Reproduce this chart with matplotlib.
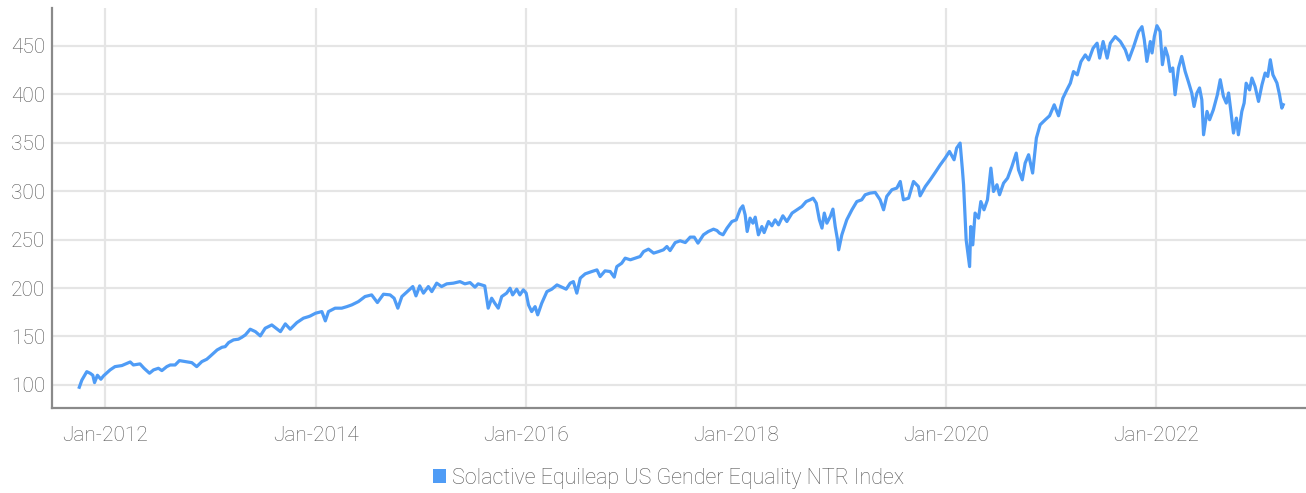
import matplotlib
matplotlib.use("Agg")
import matplotlib.pyplot as plt
import matplotlib.dates as mdates
from matplotlib.patches import Patch
import pandas as pd

SERIES_NAME = "Solactive Equileap US Gender Equality NTR Index"
LINE_COLOR = "#4f9cf6"

dates = [
    "2011-10-03", "2011-10-12", "2011-10-29", "2011-11-10", "2011-11-19", "2011-11-25",
    "2011-12-05", "2011-12-17", "2011-12-26",
    "2012-01-18", "2012-02-04", "2012-02-28", "2012-03-10", "2012-03-28", "2012-04-08",
    "2012-05-01", "2012-05-15", "2012-06-03", "2012-06-17", "2012-07-04", "2012-07-16",
    "2012-08-02", "2012-08-14", "2012-08-31", "2012-09-15", "2012-10-05", "2012-10-28",
    "2012-11-14", "2012-12-02", "2012-12-19",
    "2013-01-01", "2013-01-24", "2013-02-10", "2013-02-21", "2013-03-05", "2013-03-22",
    "2013-04-08", "2013-04-20", "2013-05-02", "2013-05-19", "2013-06-06", "2013-06-23",
    "2013-07-10", "2013-08-02", "2013-09-01", "2013-09-18", "2013-10-05", "2013-10-28",
    "2013-11-20", "2013-12-08", "2013-12-14",
    "2014-01-01", "2014-01-23", "2014-02-04", "2014-02-15", "2014-03-10", "2014-04-02",
    "2014-04-20", "2014-05-07", "2014-05-30", "2014-06-22", "2014-07-15", "2014-08-04",
    "2014-08-25", "2014-09-17", "2014-10-01", "2014-10-14", "2014-10-28", "2014-11-20",
    "2014-12-05", "2014-12-16", "2014-12-29",
    "2015-01-11", "2015-01-28", "2015-02-09", "2015-02-26", "2015-03-15", "2015-04-02",
    "2015-04-25", "2015-05-18", "2015-06-04", "2015-06-22", "2015-07-09", "2015-07-20",
    "2015-08-12", "2015-08-24", "2015-09-05", "2015-09-16", "2015-09-28", "2015-10-10",
    "2015-10-27", "2015-11-08", "2015-11-17", "2015-12-01", "2015-12-12", "2015-12-24",
    "2016-01-03", "2016-01-11", "2016-01-22", "2016-02-03", "2016-02-12", "2016-02-26",
    "2016-03-15", "2016-04-01", "2016-04-19", "2016-05-06", "2016-05-21", "2016-06-04",
    "2016-06-15", "2016-06-27", "2016-07-09", "2016-07-26", "2016-08-18", "2016-09-05",
    "2016-09-16", "2016-10-03", "2016-10-21", "2016-11-04", "2016-11-13", "2016-11-30",
    "2016-12-12", "2016-12-30",
    "2017-01-16", "2017-02-02", "2017-02-14", "2017-03-03", "2017-03-21", "2017-04-07",
    "2017-04-24", "2017-05-06", "2017-05-17", "2017-06-04", "2017-06-21", "2017-07-09",
    "2017-07-26", "2017-08-09", "2017-08-22", "2017-09-10", "2017-09-27", "2017-10-15",
    "2017-10-27", "2017-11-05", "2017-11-17", "2017-12-01", "2017-12-18",
    "2018-01-02", "2018-01-16", "2018-01-25", "2018-02-02", "2018-02-09", "2018-02-19",
    "2018-03-01", "2018-03-09", "2018-03-20", "2018-04-01", "2018-04-09", "2018-04-24",
    "2018-05-06", "2018-05-17", "2018-05-29", "2018-06-13", "2018-06-27", "2018-07-15",
    "2018-08-01", "2018-08-18", "2018-09-02", "2018-09-16", "2018-09-26", "2018-10-07",
    "2018-10-18", "2018-10-27", "2018-11-04", "2018-11-13", "2018-11-25", "2018-12-04",
    "2018-12-12", "2018-12-20", "2018-12-24",
    "2019-01-04", "2019-01-21", "2019-02-08", "2019-02-25", "2019-03-14", "2019-03-26",
    "2019-04-12", "2019-04-30", "2019-05-17", "2019-05-29", "2019-06-09", "2019-06-27",
    "2019-07-14", "2019-07-26", "2019-08-06", "2019-08-24", "2019-09-10", "2019-09-27",
    "2019-10-03", "2019-10-21", "2019-11-07", "2019-11-24", "2019-12-12", "2019-12-29",
    "2020-01-13", "2020-01-29", "2020-02-07", "2020-02-19", "2020-02-27", "2020-03-02",
    "2020-03-11", "2020-03-23", "2020-03-27", "2020-04-03", "2020-04-11", "2020-04-23",
    "2020-05-01", "2020-05-12", "2020-05-24", "2020-06-05", "2020-06-14", "2020-06-26",
    "2020-07-05", "2020-07-19", "2020-08-02", "2020-08-17", "2020-09-01", "2020-09-09",
    "2020-09-22", "2020-10-02", "2020-10-14", "2020-10-28", "2020-11-10", "2020-11-23",
    "2020-12-11", "2020-12-26",
    "2021-01-11", "2021-01-26", "2021-02-10", "2021-02-24", "2021-03-08", "2021-03-19",
    "2021-04-01", "2021-04-14", "2021-04-29", "2021-05-11", "2021-05-26", "2021-06-09",
    "2021-06-18", "2021-06-30", "2021-07-14", "2021-07-25", "2021-08-11", "2021-08-29",
    "2021-09-15", "2021-09-27", "2021-10-14", "2021-10-31", "2021-11-12", "2021-11-20",
    "2021-11-29", "2021-12-11", "2021-12-17", "2021-12-25",
    "2022-01-03", "2022-01-14", "2022-01-22", "2022-02-01", "2022-02-10", "2022-02-18",
    "2022-02-27", "2022-03-07", "2022-03-19", "2022-03-30", "2022-04-11", "2022-04-22",
    "2022-05-04", "2022-05-12", "2022-05-22", "2022-05-31", "2022-06-08", "2022-06-14",
    "2022-06-26", "2022-07-05", "2022-07-18", "2022-08-01", "2022-08-11", "2022-08-22",
    "2022-09-01", "2022-09-09", "2022-09-17", "2022-09-26", "2022-10-06", "2022-10-13",
    "2022-10-25", "2022-11-02", "2022-11-09", "2022-11-21", "2022-11-29", "2022-12-10",
    "2022-12-22",
    "2023-01-03", "2023-01-14", "2023-01-23", "2023-02-01", "2023-02-10", "2023-02-24",
    "2023-03-05", "2023-03-13", "2023-03-18",
]

values = [
    97.6, 105.0, 113.7, 112.0, 110.0, 102.4,
    110.0, 105.9, 109.3,
    115.5, 118.9, 120.0, 121.4, 123.7, 120.6,
    121.7, 117.2, 112.1, 115.5, 117.2, 114.8,
    118.9, 120.6, 120.6, 125.1, 124.1, 123.0,
    118.9, 124.1, 126.5,
    129.9, 136.1, 138.9, 139.5, 143.7, 146.5,
    147.2, 149.2, 151.6, 157.5, 155.0, 150.6,
    158.5, 161.9, 155.0, 163.0, 157.5, 164.3,
    168.9, 170.5, 171.2,
    174.0, 175.7, 166.1, 175.7, 179.2, 179.2,
    180.8, 182.6, 186.0, 191.2, 192.9, 185.0,
    193.6, 192.9, 189.5, 179.2, 191.2, 197.4,
    201.5, 191.9, 202.2,
    194.7, 201.5, 196.3, 205.0, 201.5, 204.3,
    205.0, 206.6, 204.3, 205.6, 200.9, 204.3,
    202.2, 179.2, 189.5, 184.3, 179.2, 191.2,
    194.7, 199.8, 192.9, 198.8, 192.9, 198.1,
    194.7, 182.6, 175.7, 180.8, 172.3, 184.3,
    196.3, 198.8, 203.2, 200.9, 198.8, 205.0,
    206.6, 194.7, 210.2, 214.6, 217.0, 218.7,
    211.8, 217.7, 217.0, 211.2, 222.1, 225.6,
    230.8, 229.1,
    230.8, 232.5, 237.6, 240.1, 236.0, 237.6,
    239.4, 242.8, 238.6, 246.9, 248.7, 246.9,
    252.5, 252.5, 246.3, 254.9, 258.3, 260.7,
    259.3, 256.6, 254.9, 261.8, 268.6,
    270.3, 281.4, 284.8, 275.5, 258.3, 272.1,
    266.9, 273.1, 254.9, 263.4, 257.2, 268.6,
    264.2, 270.3, 265.2, 274.5, 268.6, 277.3,
    280.7, 284.1, 289.2, 291.0, 292.7, 287.6,
    270.3, 261.8, 277.3, 266.9, 273.9, 281.4,
    263.4, 249.7, 239.4,
    254.9, 270.3, 280.7, 289.2, 291.0, 296.2,
    297.9, 298.6, 291.0, 280.7, 294.5, 301.4,
    303.1, 309.9, 291.0, 292.7, 309.9, 304.7,
    295.1, 304.7, 311.6, 319.0, 327.1, 334.0,
    340.9, 332.3, 344.4, 349.5, 322.0, 306.5,
    249.7, 222.1, 263.4, 244.5, 277.3, 272.1,
    289.2, 280.7, 291.0, 323.7, 299.6, 306.5,
    296.2, 308.2, 313.4, 325.4, 339.2, 322.0,
    311.6, 328.9, 337.5, 318.6, 354.7, 368.4,
    373.6, 377.7,
    389.0, 377.7, 395.8, 404.4, 411.3, 423.3,
    419.9, 433.6, 440.5, 435.3, 447.4, 452.6,
    437.2, 454.3, 437.2, 452.6, 459.4, 454.3,
    445.8, 435.3, 449.0, 464.5, 469.6, 456.2,
    433.8, 454.3, 442.5, 459.6,
    470.6, 464.7, 430.4, 447.6, 438.9, 423.5,
    427.0, 399.4, 427.0, 438.9, 423.5, 413.1,
    401.2, 387.3, 401.2, 406.4, 394.2, 358.1,
    382.2, 373.6, 383.9, 399.4, 414.9, 397.7,
    390.8, 401.2, 382.2, 359.9, 375.3, 358.1,
    382.2, 390.8, 411.3, 404.4, 416.6, 407.9,
    392.5,
    409.7, 421.8, 418.3, 435.5, 420.0, 411.5,
    399.4, 385.6, 389.1,
]

yticks = [100, 150, 200, 250, 300, 350, 400, 450]

dates = pd.to_datetime(dates)

plt.rcParams["font.family"] = ["Roboto", "DejaVu Sans"]
plt.rcParams["font.weight"] = "light"

fig = plt.figure(figsize=(13.06, 4.93), dpi=100)
ax = fig.add_axes([0.040, 0.172, 0.960, 0.812])

ax.plot(dates, values, color=LINE_COLOR, linewidth=2.3, solid_joinstyle="round", zorder=3)

ax.set_xlim(pd.Timestamp("2011-07-01"), pd.Timestamp("2023-06-05"))
ax.set_ylim(76, 489)
ax.set_yticks(yticks)
ax.xaxis.set_major_locator(mdates.YearLocator(2))
ax.xaxis.set_major_formatter(mdates.DateFormatter("%b-%Y"))

ax.grid(True, color="#e5e5e5", linewidth=1.6)
ax.set_axisbelow(True)

for side in ["top", "right"]:
    ax.spines[side].set_visible(False)
for side in ["left", "bottom"]:
    ax.spines[side].set_color("#8a8a8a")
    ax.spines[side].set_linewidth(1.6)

ax.tick_params(axis="both", length=0, labelsize=15, labelcolor="#555555")
ax.tick_params(axis="x", pad=13)
ax.tick_params(axis="y", pad=5)

handle = Patch(facecolor=LINE_COLOR, edgecolor="none", label=SERIES_NAME)
fig.legend(handles=[handle], loc="center", bbox_to_anchor=(0.512, 0.03),
           frameon=False, fontsize=15.5, handlelength=0.6, handleheight=0.6,
           handletextpad=0.3, labelcolor="#555555")

fig.savefig("out.png", dpi=100)
